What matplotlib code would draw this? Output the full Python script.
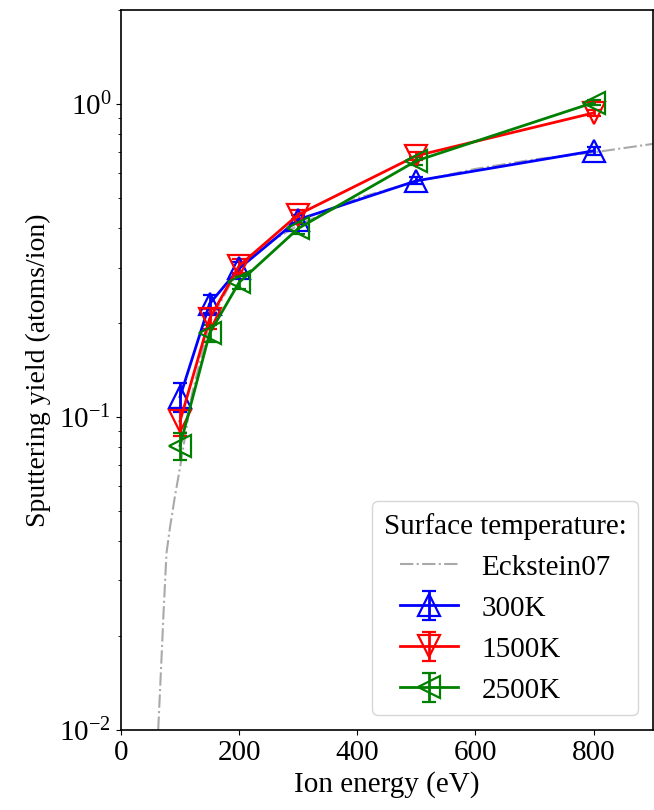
import numpy as np
import matplotlib.pyplot as plt

plt.rcParams['font.family'] = ['Liberation Serif', 'DejaVu Serif']
plt.rcParams['mathtext.fontset'] = 'stix'

# ion energies of the simulations (eV)
energy = [100, 150, 200, 300, 500, 800]

# sputtering yields (atoms/ion) per surface temperature
y_300 = [0.116, 0.23, 0.298, 0.427, 0.568, 0.708]
y_1500 = [0.097, 0.206, 0.304, 0.443, 0.683, 0.936]
y_2500 = [0.081, 0.185, 0.269, 0.400, 0.658, 1.01]

# error bars (absolute)
err_300 = [0.012, 0.015, 0.015, 0.015, 0.015, 0.02]
err_1500 = [0.010, 0.015, 0.015, 0.015, 0.02, 0.02]
err_2500 = [0.008, 0.012, 0.012, 0.015, 0.02, 0.02]

# Eckstein07 fit
eck_e = [63, 69, 72, 77, 83, 91, 100, 120, 150, 200, 250, 300, 400, 500, 600, 700, 800, 900]
eck_y = [0.01, 0.0176, 0.0236, 0.0367, 0.0444, 0.0553, 0.069, 0.118, 0.20, 0.30, 0.36,
         0.41, 0.50, 0.565, 0.62, 0.665, 0.70, 0.745]

fig = plt.figure(figsize=(6.54, 8.1), dpi=100)
ax = fig.add_axes([0.185, 0.099, 0.813, 0.889])

ax.plot(eck_e, eck_y, color='darkgray', linestyle='-.', linewidth=1.5, label='Eckstein07')
ax.errorbar(energy, y_300, yerr=err_300, color='blue', marker='^', ms=16, mfc='none',
            mew=1.6, lw=2, capsize=5, label='300K')
ax.errorbar(energy, y_1500, yerr=err_1500, color='red', marker='v', ms=16, mfc='none',
            mew=1.6, lw=2, capsize=5, label='1500K')
ax.errorbar(energy, y_2500, yerr=err_2500, color='green', marker='<', ms=16, mfc='none',
            mew=1.6, lw=2, capsize=5, label='2500K')

ax.set_yscale('log')
ax.set_xlim(0, 900)
ax.set_ylim(1e-2, 2)
ax.set_xticks([0, 200, 400, 600, 800])
ax.tick_params(labelsize=21)
for s in ax.spines.values():
    s.set_linewidth(1.2)
ax.set_xlabel('Ion energy (eV)', fontsize=21, labelpad=4)
ax.set_ylabel('Sputtering yield (atoms/ion)', fontsize=20, labelpad=6)

ax.legend(title='Surface temperature:', loc='lower right', fontsize=21, title_fontsize=21)

plt.savefig('out.png', dpi=100)
